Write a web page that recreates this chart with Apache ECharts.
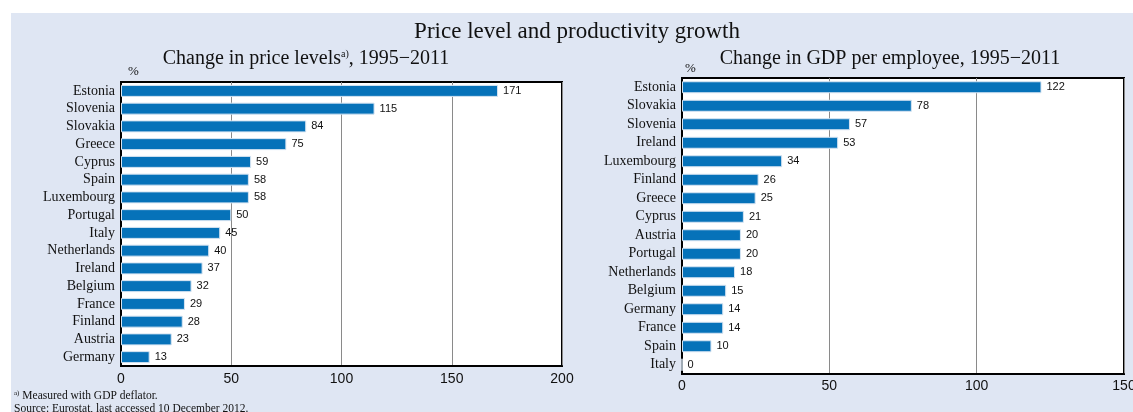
<!DOCTYPE html>
<html><head><meta charset="utf-8">
<script src="https://cdn.jsdelivr.net/npm/echarts@6/dist/echarts.min.js"></script>
<style>html,body{margin:0;padding:0;background:#fff}#c{width:1133px;height:412px}</style>
</head><body><div id="c"></div>
<script>
const priceCountries = ['Estonia','Slovenia','Slovakia','Greece','Cyprus','Spain','Luxembourg','Portugal','Italy','Netherlands','Ireland','Belgium','France','Finland','Austria','Germany'];
const priceValues = [171,115,84,75,59,58,58,50,45,40,37,32,29,28,23,13];
const gdpCountries = ['Estonia','Slovakia','Slovenia','Ireland','Luxembourg','Finland','Greece','Cyprus','Austria','Portugal','Netherlands','Belgium','Germany','France','Spain','Italy'];
const gdpValues = [122,78,57,53,34,26,25,21,20,20,18,15,14,14,10,0];
const priceTicks = [0,50,100,150,200];
const gdpTicks = [0,50,100,150];

const serif = '"Liberation Serif","DejaVu Serif",serif';
const sans = '"Liberation Sans","DejaVu Sans",sans-serif';
const barColor = '#0672b9';

function xAx(gridIndex, ticks, margin){
  return {
    type:'value', gridIndex, min:ticks[0], max:ticks[ticks.length-1], interval:50,
    axisLine:{show:true,lineStyle:{color:'#000',width:2}},
    axisTick:{show:false},
    axisLabel:{color:'#111',fontFamily:sans,fontSize:14,margin:margin},
    splitLine:{show:true,lineStyle:{color:'#8a8a8a',width:1}}
  };
}
function yAx(gridIndex, cats){
  return {
    type:'category', gridIndex, data:cats, inverse:true,
    axisLine:{show:true,lineStyle:{color:'#000',width:2}},
    axisTick:{show:false},
    axisLabel:{color:'#111',fontFamily:serif,fontSize:14,margin:6,interval:0},
    splitLine:{show:false}
  };
}
function bars(idx, vals, w){
  return {
    type:'bar', xAxisIndex:idx, yAxisIndex:idx, data:vals, barWidth:w,
    itemStyle:{color:barColor,borderColor:'#d6e4f2',borderWidth:1},
    label:{show:true,position:'right',distance:5,color:'#111',fontFamily:sans,fontSize:11},
    silent:true, animation:false
  };
}

const chart = echarts.init(document.getElementById('c'));
chart.setOption({
  animation:false,
  graphic:[
    {type:'rect',z:-10,shape:{x:11,y:13,width:1122,height:399},style:{fill:'#dfe6f3'}},
    {type:'text',left:128,top:65,style:{text:'%',font:'13px '+serif,fill:'#111'}},
    {type:'text',left:685,top:62,style:{text:'%',font:'13px '+serif,fill:'#111'}},
    {type:'text',left:14,top:390,style:{text:'{s|a)} Measured with GDP deflator.',font:'11.5px '+serif,fill:'#111',rich:{s:{fontSize:7,verticalAlign:'top',fontFamily:serif,padding:[0,0,5,0]}}}},
    {type:'text',left:14,top:403,style:{text:'Source: Eurostat, last accessed 10 December 2012.',font:'11.5px '+serif,fill:'#111'}}
  ],
  title:[
    {text:'Price level and productivity growth',left:572,textAlign:'center',top:15,textStyle:{fontFamily:serif,fontSize:23,fontWeight:'normal',color:'#111'}},
    {text:'Change in price levels{s|a)}, 1995\u22122011',left:301,textAlign:'center',top:44,
     textStyle:{fontFamily:serif,fontSize:20,fontWeight:'normal',color:'#111',
      rich:{s:{fontFamily:serif,fontSize:10,verticalAlign:'top',padding:[0,0,9,0],color:'#111'}}}},
    {text:'Change in GDP per employee, 1995\u22122011',left:885,textAlign:'center',top:44,textStyle:{fontFamily:serif,fontSize:20,fontWeight:'normal',color:'#111'}}
  ],
  grid:[
    {left:121,right:571,top:82,bottom:46,show:true,backgroundColor:'#fff',borderColor:'#000',borderWidth:2,outerBoundsMode:'none',containLabel:false},
    {left:682,right:9,top:78,bottom:38,show:true,backgroundColor:'#fff',borderColor:'#000',borderWidth:2,outerBoundsMode:'none',containLabel:false}
  ],
  xAxis:[xAx(0,priceTicks,6), xAx(1,gdpTicks,5)],
  yAxis:[yAx(0,priceCountries), yAx(1,gdpCountries)],
  series:[bars(0,priceValues,12), bars(1,gdpValues,12)]
});
</script></body></html>
